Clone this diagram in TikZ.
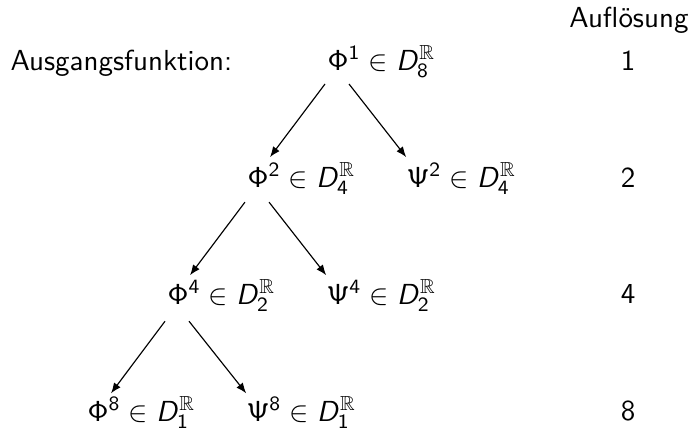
\documentclass[tikz,border=0pt]{standalone}
\usepackage{amsmath}
\usepackage{amssymb}
\usetikzlibrary{positioning, arrows.meta}
% Mathe in Serifenloser wie bei beamer
\SetSymbolFont{operators}{normal}{OT1}{cmss}{m}{n}
\DeclareMathAlphabet{\mathsfit}{OT1}{cmss}{m}{sl}
\newcommand{\fnin}[3]{$#1^{#2} \in \mathsfit{D}_{#3}^{\mathbb{R}}$}

\begin{document}
\begin{tikzpicture}[x=0.345pt, y=-0.345pt, node distance=40.4pt and 27.6pt, on grid,
    every node/.style={inner sep=0pt, font=\sffamily},
    >={Latex[length=3.6pt, width=2.8pt]}]
   \useasboundingbox (0,0) rectangle (693,436);

   % Ausgangsfunktion
   \node[anchor=base west] (start) at (10,70) {Ausgangsfunktion:};
   \node[anchor=base west] (phi_1) at (327,70) {\fnin{\Phi}{1}{8}};

   % Zerlegung
   \node (phi_2) [below left=of phi_1] {\fnin{\Phi}{2}{4}};
   \node (psi_2) [below right=of phi_1] {\fnin{\Psi}{2}{4}};
   \node (phi_4) [below left=of phi_2] {\fnin{\Phi}{4}{2}};
   \node (psi_4) [below right=of phi_2] {\fnin{\Psi}{4}{2}};
   \node (phi_8) [below left=of phi_4] {\fnin{\Phi}{8}{1}};
   \node (psi_8) [below right=of phi_4] {\fnin{\Psi}{8}{1}};

   % Aufloesung
   \node[anchor=base] (res) at (629,27) {Auflösung};
   \node[anchor=base] (res_1) at (628,70) {1};
   \node (res_2) [below=of res_1] {2};
   \node (res_4) [below=of res_2] {4};
   \node (res_8) [below=of res_4] {8};

   \path[->]
    ([shift={(-2,14)}]phi_1.base west) edge ([shift={(23,-30)}]phi_2.base west)
    ([shift={(22,14)}]phi_1.base west) edge ([shift={(0,-30)}]psi_2.base west)
    ([shift={(-2,15)}]phi_2.base west) edge ([shift={(23,-29)}]phi_4.base west)
    ([shift={(22,15)}]phi_2.base west) edge ([shift={(0,-29)}]psi_4.base west)
    ([shift={(-2,17)}]phi_4.base west) edge ([shift={(24,-28)}]phi_8.base west)
    ([shift={(22,17)}]phi_4.base west) edge ([shift={(0,-28)}]psi_8.base west)
    ;
\end{tikzpicture}
\end{document}
